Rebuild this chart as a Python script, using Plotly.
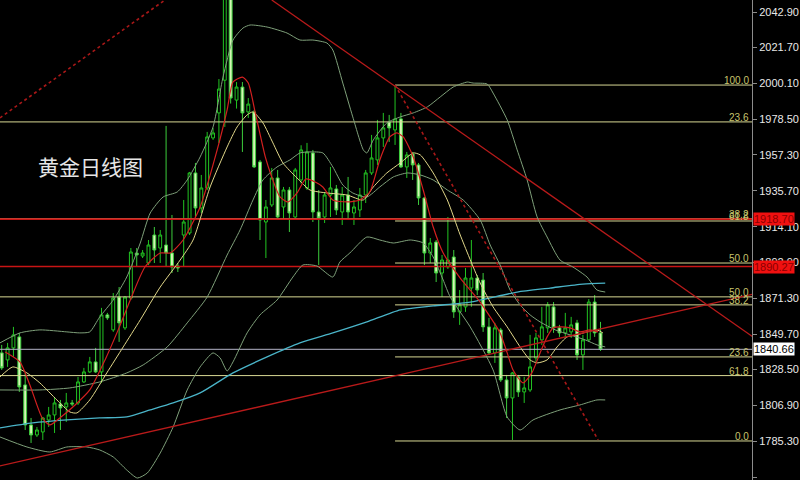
import plotly.graph_objects as go

# ---------------- data ----------------
opens = [1838.5,1834.3,1841.5,1848.1,1819.3,1795.3,1789.3,1791.1,1798.3,1801.3,
         1807.9,1806.1,1808.5,1808.5,1821.1,1827.1,1833.1,1827.1,1861.3,1852.3,
         1872.0,1853.5,1871.4,1898.4,1896.6,1892.4,1909.2,1901.4,1903.2,1898.4,
         1890.6,1909.2,1910.4,1946.4,1925.4,1937.4,1967.4,1982.4,2002.0,2070.0,
         1990.1,1997.9,1983.0,1983.0,1953.0,1917.0,1927.2,1943.4,1926.0,1936.2,
         1920.0,1942.2,1937.4,1958.4,1923.0,1920.0,1933.2,1936.8,1923.0,1933.2,
         1922.4,1924.2,1933.2,1946.4,1954.2,1967.4,1976.9,1972.2,1978.8,1950.0,
         1957.8,1951.2,1931.4,1898.4,1905.0,1886.4,1890.0,1896.0,1863.1,1866.1,
         1877.4,1883.4,1882.2,1854.1,1838.5,1852.3,1822.3,1811.5,1824.1,1815.1,
         1816.3,1835.5,1846.3,1853.5,1866.1,1853.5,1850.5,1851.1,1856.5,1837.3,
         1846.3,1869.0,1850.5]
highs = [1843.3,1844.5,1854.1,1850.5,1826.5,1799.5,1794.1,1800.1,1806.1,1812.1,
         1810.3,1814.5,1810.3,1824.1,1829.5,1836.1,1841.5,1865.5,1862.5,1874.4,
         1878.0,1872.6,1901.4,1901.4,1900.2,1906.2,1914.0,1912.2,1974.6,1921.2,
         1892.4,1930.2,1947.0,1952.4,1945.2,1971.0,1973.4,2002.7,2075.0,2146.0,
         2000.9,2000.9,1991.3,1984.2,1954.2,1930.2,1949.4,1948.2,1938.0,1938.0,
         1949.4,1963.0,1964.4,1960.2,1936.2,1935.0,1950.0,1939.2,1938.0,1944.0,
         1930.2,1937.4,1948.2,1969.2,1978.2,1982.4,1981.2,1999.1,1982.4,1959.0,
         1959.0,1952.4,1932.0,1907.4,1906.2,1897.2,1920.0,1900.2,1876.2,1889.4,
         1906.2,1885.2,1886.4,1859.5,1856.5,1853.5,1825.3,1827.1,1825.3,1824.1,
         1849.3,1850.5,1866.1,1869.0,1869.0,1855.3,1862.5,1860.1,1858.3,1849.3,
         1870.8,1873.2,1857.1]
lows = [1828.3,1830.1,1836.1,1815.1,1792.3,1784.5,1788.1,1786.3,1794.1,1790.5,
        1792.3,1797.1,1806.7,1807.3,1820.5,1826.5,1826.5,1820.5,1858.3,1851.1,
        1845.1,1852.3,1870.2,1890.0,1895.4,1891.2,1892.4,1892.4,1890.0,1886.4,
        1887.0,1890.0,1909.2,1920.0,1922.4,1936.2,1966.2,1964.4,1974.0,1988.0,
        1985.0,1959.0,1979.4,1949.4,1906.2,1895.4,1926.0,1919.4,1918.2,1911.0,
        1919.4,1940.0,1936.2,1917.0,1891.2,1916.4,1920.0,1921.2,1915.2,1918.2,
        1915.2,1920.0,1928.4,1945.2,1951.2,1962.0,1965.0,1963.2,1949.4,1943.4,
        1942.2,1927.2,1891.2,1892.4,1881.0,1872.0,1888.8,1859.5,1855.3,1863.1,
        1866.1,1873.2,1851.1,1837.3,1832.5,1821.1,1799.5,1786.3,1812.1,1808.5,
        1815.1,1833.1,1843.3,1850.5,1850.5,1848.1,1847.5,1847.5,1834.3,1828.3,
        1845.1,1848.1,1839.7]
closes = [1829.5,1841.5,1849.3,1818.1,1795.3,1789.3,1792.3,1799.5,1801.3,1808.5,
          1805.5,1808.5,1807.9,1821.1,1827.1,1833.1,1827.1,1861.3,1859.5,1871.4,
          1856.5,1872.0,1899.0,1897.2,1898.4,1903.2,1900.2,1909.2,1898.4,1890.0,
          1889.4,1917.0,1946.4,1925.4,1937.4,1968.0,1970.4,1996.7,2070.0,1991.3,
          1997.9,1982.4,1987.7,1950.0,1918.2,1926.0,1943.4,1920.0,1936.2,1922.4,
          1948.2,1960.2,1959.0,1923.0,1919.4,1933.2,1937.4,1924.2,1933.2,1923.0,
          1926.0,1933.2,1946.4,1955.4,1967.4,1973.4,1973.4,1978.8,1950.0,1957.2,
          1951.2,1931.4,1898.4,1904.4,1886.4,1894.2,1894.2,1863.1,1867.3,1883.4,
          1883.4,1876.2,1854.1,1838.5,1853.5,1822.3,1811.5,1826.5,1815.1,1817.5,
          1830.1,1847.5,1854.1,1867.3,1853.5,1850.5,1853.5,1855.3,1837.3,1846.3,
          1869.0,1850.5,1840.66]
bars = list(range(len(closes)))

# fast MA (red)
ma_fast_x = [0.6,3.1,4.8,6.9,8.2,9.9,12.5,15.0,17.6,20.2,21.9,24.4,27.0,28.7,30.9,33.8,36.7,38.4,39.4,41.0,
             42.0,43.2,44.9,46.0,47.4,48.8,50.3,51.8,53.4,54.7,56.4,58.8,61.0,62.7,64.4,66.1,67.3,68.4,70.1,
             71.8,73.5,75.2,78.1,81.5,83.2,84.9,86.1,87.1,88.8,90.3,91.7,92.9,93.9,95.1,96.8,98.5,100.2,101.6]
ma_fast_y = [1839.1,1833.1,1819.3,1799.5,1795.3,1799.5,1807.3,1816.3,1834.3,1855.3,1870.2,1890.0,1898.4,1898.4,
             1906.2,1926.0,1960.2,1984.2,2001.0,2003.9,2000.3,1982.4,1956.0,1944.0,1932.0,1929.0,1934.4,1942.8,
             1941.0,1938.0,1930.2,1929.0,1930.2,1935.0,1954.2,1968.0,1970.4,1968.0,1956.0,1936.2,1914.0,1898.4,
             1883.4,1869.0,1860.1,1850.5,1838.5,1828.3,1820.5,1826.5,1838.5,1848.1,1853.5,1854.1,1853.5,1851.1,
             1852.3,1851.1]
# slow MA (yellow)
ma_slow_x = [-0.3,1.9,4.3,6.5,9.4,11.6,12.8,15.0,17.9,20.7,23.6,27.0,30.4,32.6,35.5,38.4,40.1,41.8,42.8,44.5,
             46.2,47.9,50.3,52.5,55.4,58.8,61.6,63.3,65.6,67.9,70.1,71.3,73.5,75.9,78.1,81.5,83.7,86.1,88.3,90.0,
             91.2,92.9,94.6,96.3,98.0,99.7,101.4,102.4]
ma_slow_y = [1824.1,1830.1,1826.5,1820.5,1810.3,1803.1,1802.5,1810.3,1826.5,1842.1,1858.3,1878.0,1894.2,1906.2,
             1938.0,1962.0,1974.0,1981.2,1983.0,1976.4,1964.4,1952.4,1943.4,1936.2,1934.4,1933.2,1930.2,1938.0,
             1946.4,1952.4,1958.4,1957.2,1946.4,1930.2,1909.2,1880.4,1866.1,1854.1,1842.1,1834.3,1832.5,1834.3,
             1842.1,1848.1,1849.3,1851.1,1852.3,1850.5]
# Bollinger bands
bb_up_x = [-0.3,3.1,6.5,11.1,13.3,15.0,16.7,19.0,21.3,23.6,25.3,27.5,29.9,31.6,33.8,36.0,37.7,39.4,41.1,42.3,
           45.2,48.6,50.8,53.0,55.4,56.4,58.1,59.8,61.6,62.2,63.3,65.6,67.9,70.1,72.5,74.7,76.9,79.3,80.3,82.7,
           83.7,86.1,87.8,89.5,91.2,92.9,95.1,97.3,99.7,101.4,102.8]
bb_up_y = [1844.5,1850.5,1852.3,1851.1,1850.5,1851.1,1860.1,1870.2,1884.0,1904.4,1922.4,1932.0,1935.0,1942.2,
           1956.0,1974.0,2003.9,2026.1,2033.3,2035.1,2033.9,2030.3,2026.1,2026.1,2024.3,2020.1,2000.3,1980.0,
           1960.2,1958.4,1966.2,1976.4,1980.0,1982.4,1986.0,1992.0,1997.9,2000.9,2000.3,1999.7,1994.3,1978.2,
           1960.2,1942.2,1920.0,1908.0,1894.2,1890.0,1884.0,1876.2,1875.0]
bb_mid_x = [-0.3,6.5,11.6,16.7,21.3,24.1,28.2,31.6,35.0,38.4,40.6,42.8,44.5,46.9,49.1,50.8,52.5,54.7,56.4,58.1,
            59.8,62.2,64.4,66.7,69.1,71.3,73.5,75.9,78.6,81.5,83.2,84.9,86.6,88.3,90.0,91.7,94.3,96.8,99.4,101.4,
            102.8]
bb_mid_y = [1816.3,1816.3,1817.5,1821.1,1826.5,1831.3,1842.1,1856.5,1872.0,1897.2,1912.2,1930.2,1942.2,1950.0,
            1954.2,1958.4,1959.0,1958.4,1950.0,1939.2,1934.4,1932.0,1938.0,1944.0,1946.4,1945.2,1942.2,1936.2,
            1930.2,1918.2,1903.2,1891.2,1876.2,1867.3,1861.3,1857.1,1852.3,1849.3,1846.3,1843.3,1842.1]
bb_low_x = [-0.3,4.3,8.2,11.1,14.5,16.7,19.0,21.3,23.1,24.8,27.0,29.2,31.6,33.8,36.0,37.2,38.4,39.4,41.8,44.0,
            46.9,49.6,51.3,53.7,56.4,57.6,59.3,62.2,64.4,66.7,69.6,71.8,73.5,75.2,76.4,79.8,83.7,86.1,88.3,90.5,
            95.1,98.5,101.4,102.8]
bb_low_y = [1788.1,1782.1,1779.1,1782.1,1782.1,1780.3,1776.1,1768.3,1763.5,1766.5,1778.5,1794.1,1816.3,1830.1,
            1838.5,1835.5,1827.7,1833.1,1850.5,1861.3,1870.2,1884.0,1891.2,1890.6,1884.0,1893.0,1898.4,1908.0,
            1906.2,1904.4,1906.2,1904.4,1896.0,1882.2,1872.0,1854.1,1828.3,1800.1,1792.3,1798.3,1804.3,1807.3,
            1810.3,1810.3]
# long MA (cyan)
ma_long_x = [-0.3,5.3,11.1,16.7,21.3,25.3,29.2,33.8,39.4,45.2,50.8,56.4,62.2,67.9,73.5,79.8,87.8,93.4,99.0,102.8]
ma_long_y = [1793.5,1796.5,1798.3,1799.5,1800.1,1804.3,1808.5,1814.5,1826.5,1836.1,1844.5,1850.5,1857.1,1864.3,
             1866.7,1869.0,1875.0,1877.4,1879.8,1880.4]

# trend lines (start/end as bar index, price)
trend_solid = [((46.0, 2050.1), (128.0, 1848.0)), ((-0.3, 1770.7), (128.0, 1873.8))]
trend_dotted = [((-0.3, 1979.4), (27.8, 2050.1)), ((67.0, 1999.1), (101.6, 1786.3))]

# Fibonacci sets
fib_a_levels = [1977.0, 1919.0, 1872.1, 1824.9]
fib_a_labels = ["23.6", "38.2", "50.0", "61.8"]
fib_a_start = -0.3
fib_b_levels = [1999.1, 1917.6, 1892.4, 1867.3, 1836.1, 1785.7]
fib_b_labels = ["100.0", "61.8", "50.0", "38.2", "23.6", "0.0"]
fib_b_start = 67.0

red_levels = [1918.70, 1890.27]
last_price = 1840.66

ytick_vals = [2042.9, 2021.7, 2000.1, 1978.5, 1957.3, 1935.7, 1914.1, 1892.9, 1871.3,
              1849.7, 1828.5, 1806.9, 1785.3, 1764.1]
ytick_text = ["%.2f" % v for v in ytick_vals]
title_text = "黄金日线图"

X_MIN, X_MAX = -0.29, 127.8
Y_MIN, Y_MAX = 1762.3, 2050.1

# ---------------- figure ----------------
fig = go.Figure()

def hline(y, x0, color, width=1.0):
    fig.add_trace(go.Scatter(x=[x0, X_MAX + 1], y=[y, y], mode="lines",
                             line=dict(color=color, width=width),
                             hoverinfo="skip", showlegend=False))

FIB_COLOR = "#d8d894"
for lv in fib_a_levels:
    hline(lv, fib_a_start - 1, FIB_COLOR, 1.0)
for lv in fib_b_levels:
    hline(lv, fib_b_start, FIB_COLOR, 1.0)
hline(last_price, X_MIN - 1, "#b4b4c8", 1.0)
for lv in red_levels:
    hline(lv, X_MIN - 1, "#c81414", 1.6)

fig.add_trace(go.Candlestick(
    x=bars, open=opens, high=highs, low=lows, close=closes,
    increasing=dict(line=dict(color="#22c422", width=1), fillcolor="#000000"),
    decreasing=dict(line=dict(color="#3ccc3c", width=1), fillcolor="#d4f5b4"),
    whiskerwidth=0, hoverinfo="skip", showlegend=False))

def curve(xs, ys, color, width=1.0):
    fig.add_trace(go.Scatter(x=xs, y=ys, mode="lines", line=dict(color=color, width=width, shape="spline", smoothing=0.6),
                             hoverinfo="skip", showlegend=False))

BB_COLOR = "#7fa07a"
curve(bb_up_x, bb_up_y, BB_COLOR)
curve(bb_mid_x, bb_mid_y, BB_COLOR)
curve(bb_low_x, bb_low_y, BB_COLOR)
curve(ma_long_x, ma_long_y, "#4ab4c8", 1.3)
curve(ma_slow_x, ma_slow_y, "#e2d88a")
curve(ma_fast_x, ma_fast_y, "#d42020", 1.2)

for (a, b) in trend_solid:
    fig.add_trace(go.Scatter(x=[a[0], b[0]], y=[a[1], b[1]], mode="lines",
                             line=dict(color="#b81a1a", width=1.3), hoverinfo="skip", showlegend=False))
for (a, b) in trend_dotted:
    fig.add_trace(go.Scatter(x=[a[0], b[0]], y=[a[1], b[1]], mode="lines",
                             line=dict(color="#a81818", width=1.6, dash="dot"), hoverinfo="skip", showlegend=False))

annotations = []
for lv, lb in list(zip(fib_a_levels, fib_a_labels)) + list(zip(fib_b_levels, fib_b_labels)):
    annotations.append(dict(x=1, xref="paper", y=lv, yref="y", text=lb, showarrow=False,
                            xanchor="right", yanchor="bottom", xshift=-1, yshift=-3,
                            font=dict(family="Liberation Sans", size=10, color="#c8c46c")))
for lv in red_levels:
    annotations.append(dict(x=1, xref="paper", y=lv, yref="y", text="%.2f" % lv, showarrow=False,
                            xanchor="left", yanchor="middle", xshift=1,
                            bgcolor="#f01010", borderpad=0,
                            font=dict(family="Liberation Sans", size=11, color="#8a0000")))
annotations.append(dict(x=1, xref="paper", y=last_price, yref="y", text="%.2f" % last_price, showarrow=False,
                        xanchor="left", yanchor="middle", xshift=1, bgcolor="#ffffff", borderpad=0,
                        font=dict(family="Liberation Sans", size=11, color="#000000")))
annotations.append(dict(x=0.12, xref="paper", y=0.655, yref="paper", text=title_text, showarrow=False,
                        xanchor="center", yanchor="middle",
                        font=dict(family="Noto Sans CJK SC", size=21, color="#e6e6e6")))

fig.update_layout(
    width=800, height=480,
    margin=dict(l=0, r=48, t=0, b=0, autoexpand=False),
    paper_bgcolor="#000000", plot_bgcolor="#000000",
    showlegend=False, boxgap=0.3,
    annotations=annotations,
    xaxis=dict(range=[X_MIN, X_MAX], visible=False, rangeslider=dict(visible=False), fixedrange=True),
    yaxis=dict(range=[Y_MIN, Y_MAX], side="right", tickvals=ytick_vals, ticktext=ytick_text,
               showgrid=False, zeroline=False, showline=True, linecolor="#8c8c8c", linewidth=1,
               ticks="outside", ticklen=4, tickcolor="#8c8c8c", automargin=False,
               tickfont=dict(family="Liberation Sans", size=11, color="#e8e8e8"), fixedrange=True),
)

fig.write_html("out.html", config={"displayModeBar": False},
               post_script="document.body.style.margin='0';document.body.style.background='#000';")
